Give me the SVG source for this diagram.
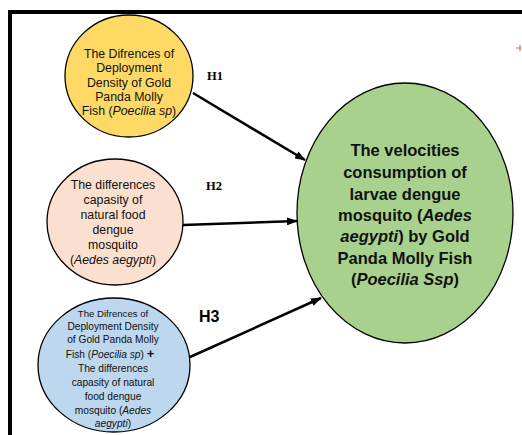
<svg xmlns="http://www.w3.org/2000/svg" width="522" height="435" viewBox="0 0 522 435">
<defs>
<marker id="ah" markerWidth="11" markerHeight="8" refX="10" refY="4" orient="auto" markerUnits="userSpaceOnUse">
<path d="M0,0 L11,4 L0,8 z" fill="#000"/>
</marker>
<style>
.n{stroke:#000;stroke-width:1.3}
.t{font-family:"Liberation Sans",Arial,sans-serif;font-size:12.3px;fill:#111;text-anchor:middle}
.s{font-family:"Liberation Sans",Arial,sans-serif;font-size:10.2px;fill:#111;text-anchor:middle}
.g{font-family:"Liberation Sans",Arial,sans-serif;font-size:16.5px;font-weight:bold;fill:#111;text-anchor:middle}
.h{font-family:"Liberation Serif","Times New Roman",serif;font-size:12.5px;font-weight:bold;fill:#000}
.c{stroke:#000;stroke-width:2.5;fill:none}
</style>
</defs>
<rect width="522" height="435" fill="#fff"/>
<path d="M10,440 V12 H530" fill="none" stroke="#000" stroke-width="4"/>
<path d="M516,48 H521 M520,45 V51" stroke="#E07830" stroke-width="1.2"/>
<g id="node1">
<ellipse class="n" cx="129" cy="76" rx="64" ry="61" fill="#FFD966"/>
<text class="t" x="129" y="58">The Difrences of</text>
<text class="t" x="129" y="72">Deployment</text>
<text class="t" x="129" y="86.5">Density of Gold</text>
<text class="t" x="129" y="100.5">Panda Molly</text>
<text class="t" x="129" y="115">Fish (<tspan font-style="italic">Poecilia sp</tspan>)</text>
</g>
<g id="node2">
<ellipse class="n" cx="115" cy="222" rx="68" ry="63" fill="#FBE0CF"/>
<text class="t" x="113" y="189">The differences</text>
<text class="t" x="113" y="204">capasity of</text>
<text class="t" x="113" y="219">natural food</text>
<text class="t" x="113" y="234">dengue</text>
<text class="t" x="113" y="249">mosquito</text>
<text class="t" x="113" y="264">(<tspan font-style="italic">Aedes aegypti</tspan>)</text>
</g>
<g id="node3">
<ellipse class="n" cx="114" cy="365" rx="76" ry="67" fill="#BDD7EE"/>
<text class="s" x="113" y="317" style="font-size:9.6px">The Difrences of</text>
<text class="s" x="113" y="330">Deployment Density</text>
<text class="s" x="113" y="343">of Gold Panda Molly</text>
<text class="s" x="110" y="358">Fish (<tspan font-style="italic">Poecilia sp</tspan>) <tspan font-weight="bold" font-size="13px">+</tspan></text>
<text class="s" x="113" y="372">The differences</text>
<text class="s" x="113" y="386">capasity of natural</text>
<text class="s" x="113" y="400">food dengue</text>
<text class="s" x="113" y="414">mosquito (<tspan font-style="italic">Aedes</tspan></text>
<text class="s" x="113" y="427" font-style="italic">aegypti<tspan font-style="normal">)</tspan></text>
</g>
<g id="node4">
<ellipse class="n" cx="405" cy="213" rx="108" ry="130" fill="#A9D18E"/>
<text class="g" x="405" y="156">The velocities</text>
<text class="g" x="405" y="178">consumption of</text>
<text class="g" x="405" y="200">larvae dengue</text>
<text class="g" x="405" y="221">mosquito (<tspan font-style="italic">Aedes</tspan></text>
<text class="g" x="405" y="242"><tspan font-style="italic">aegypti</tspan>) by Gold</text>
<text class="g" x="405" y="264">Panda Molly Fish</text>
<text class="g" x="405" y="285">(<tspan font-style="italic">Poecilia Ssp</tspan>)</text>
</g>
<g id="connectors">
<line class="c" x1="193" y1="93" x2="305" y2="160" marker-end="url(#ah)"/>
<line class="c" x1="183" y1="225" x2="297" y2="221" marker-end="url(#ah)"/>
<line class="c" x1="190" y1="357" x2="321" y2="298" marker-end="url(#ah)"/>
<text class="h" x="207" y="80">H1</text>
<text class="h" x="206" y="190">H2</text>
<text x="199" y="322" style="font-family:'Liberation Sans',Arial,sans-serif;font-size:16px;font-weight:bold;fill:#000">H3</text>
</g>
</svg>
